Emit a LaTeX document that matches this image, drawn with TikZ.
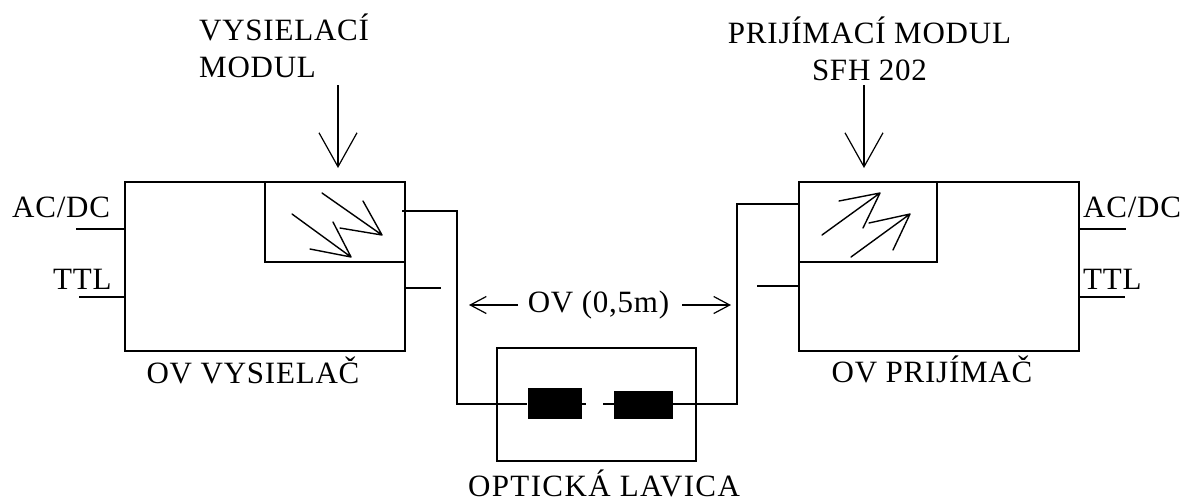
\documentclass[tikz,border=0pt]{standalone}
\usepackage{fontspec}
\setmainfont{Liberation Serif}
\newfontfamily\lblfont[LetterSpace=2.5]{Liberation Serif}
\newfontfamily\widefont[LetterSpace=4.5]{Liberation Serif}
\usetikzlibrary{arrows.meta}
\tikzset{
  x=1pt,y=-1pt,
  ln/.style={draw=black,line width=1.3pt},
  thin ln/.style={draw=black,line width=1.2pt},
  lbl/.style={font=\fontsize{31}{35}\selectfont\lblfont,inner sep=0pt,text=black},
  widelbl/.style={font=\fontsize{31}{35}\selectfont\widefont,inner sep=0pt,text=black},
  ablock/.style={fill=black,draw=none},
  openhead/.style={-{Straight Barb[length=16pt,width=17pt,line width=1.2pt]}},
  bigopen/.style={-{Straight Barb[length=34pt,width=38pt,line width=1.2pt]}},
  zig/.style={draw=black,line width=1.4pt,line cap=round,line join=round}
}
\begin{document}
\begin{tikzpicture}
\useasboundingbox (0,0) rectangle (1185,499);
% boxes
\coordinate (txa) at (125,182); \coordinate (txb) at (405,351);
\coordinate (tma) at (265,182); \coordinate (tmb) at (405,262);
\coordinate (rxa) at (799,182); \coordinate (rxb) at (1079,351);
\coordinate (rma) at (799,182); \coordinate (rmb) at (937,262);
\coordinate (lva) at (497,348); \coordinate (lvb) at (696,461);
\draw[ln] (txa) rectangle (txb);
\draw[ln] (tma) rectangle (tmb);
\draw[ln] (rxa) rectangle (rxb);
\draw[ln] (rma) rectangle (rmb);
\draw[ln] (lva) rectangle (lvb);
% fibre
\node[ablock,minimum width=54pt,minimum height=31pt,inner sep=0pt] (ba) at (554.5,403.5) {};
\node[ablock,minimum width=59pt,minimum height=28pt,inner sep=0pt] (bb) at (643.5,405) {};
\coordinate (tout) at (402,211); \coordinate (tcorner1) at (457,211); \coordinate (tcorner2) at (457,404);
\coordinate (rout) at (799,204); \coordinate (rcorner1) at (737,204); \coordinate (rcorner2) at (737,404);
\draw[ln] (tout) -- (tcorner1) -- (tcorner2) -- (ba.west |- tcorner2);
\draw[ln] (rout) -- (rcorner1) -- (rcorner2) -- (bb.east |- rcorner2);
\coordinate (sa) at (586,404); \coordinate (sb) at (603,404);
\draw[ln] (ba.east |- sa) -- (sa);
\draw[ln] (sb) -- (bb.west |- sb);
% stubs
\coordinate (s1) at (441,288); \coordinate (s1b) at (405,288);
\coordinate (s2) at (757,286); \coordinate (s2b) at (799,286);
\draw[ln] (s1b) -- (s1);
\draw[ln] (s2) -- (s2b);
\coordinate (a1) at (76,229); \coordinate (a1b) at (125,229);
\coordinate (a2) at (79,297); \coordinate (a2b) at (125,297);
\coordinate (a3) at (1079,229); \coordinate (a3b) at (1126,229);
\coordinate (a4) at (1079,297); \coordinate (a4b) at (1125,297);
\draw[ln] (a1) -- (a1b); \draw[ln] (a2) -- (a2b);
\draw[ln] (a3) -- (a3b); \draw[ln] (a4) -- (a4b);
% module arrows
\coordinate (m1) at (338,85); \coordinate (m1b) at (338,168);
\coordinate (m2) at (864,85); \coordinate (m2b) at (864,168);
\draw[thin ln,bigopen] (m1) -- (m1b);
\draw[thin ln,bigopen] (m2) -- (m2b);
% OV arrows
\coordinate (o1) at (518,305); \coordinate (o1b) at (469,305);
\coordinate (o2) at (682,305); \coordinate (o2b) at (731,305);
\draw[thin ln,openhead] (o1) -- (o1b);
\draw[thin ln,openhead] (o2) -- (o2b);
% emitter zigzag
\draw[zig] (322,193) -- (382,235) (363,201) -- (382,235) -- (340,228);
\draw[zig] (292,214) -- (351,257) (333,222) -- (351,257) -- (310,249);
% receiver zigzag
\draw[zig] (822,235) -- (880,193) (839,201) -- (880,193) -- (863,228);
\draw[zig] (851,257) -- (910,214) (869,223) -- (910,214) -- (893,250);
% labels
\node[lbl,anchor=base west] (t1) at (199,40) {VYSIELACÍ};
\node[lbl,anchor=base west] (t2) at (199,77) {MODUL};
\node[lbl,anchor=base] (t3) at (869.5,43) {PRIJÍMACÍ MODUL};
\node[lbl,anchor=base] (t4) at (869.5,80) {SFH 202};
\node[lbl,anchor=base west] (t5) at (12,217) {AC/DC};
\node[lbl,anchor=base west] (t6) at (53,289) {TTL};
\node[lbl,anchor=base west] (t7) at (1083,217) {AC/DC};
\node[lbl,anchor=base west] (t8) at (1083,289) {TTL};
\node[lbl,anchor=base] (t9) at (598.5,312) {OV (0,5m)};
\node[lbl,anchor=base] (t10) at (253,383) {OV VYSIELAČ};
\node[lbl,anchor=base] (t11) at (932,382) {OV PRIJÍMAČ};
\node[widelbl,anchor=base] (t12) at (604,496) {OPTICKÁ LAVICA};
\end{tikzpicture}
\end{document}
